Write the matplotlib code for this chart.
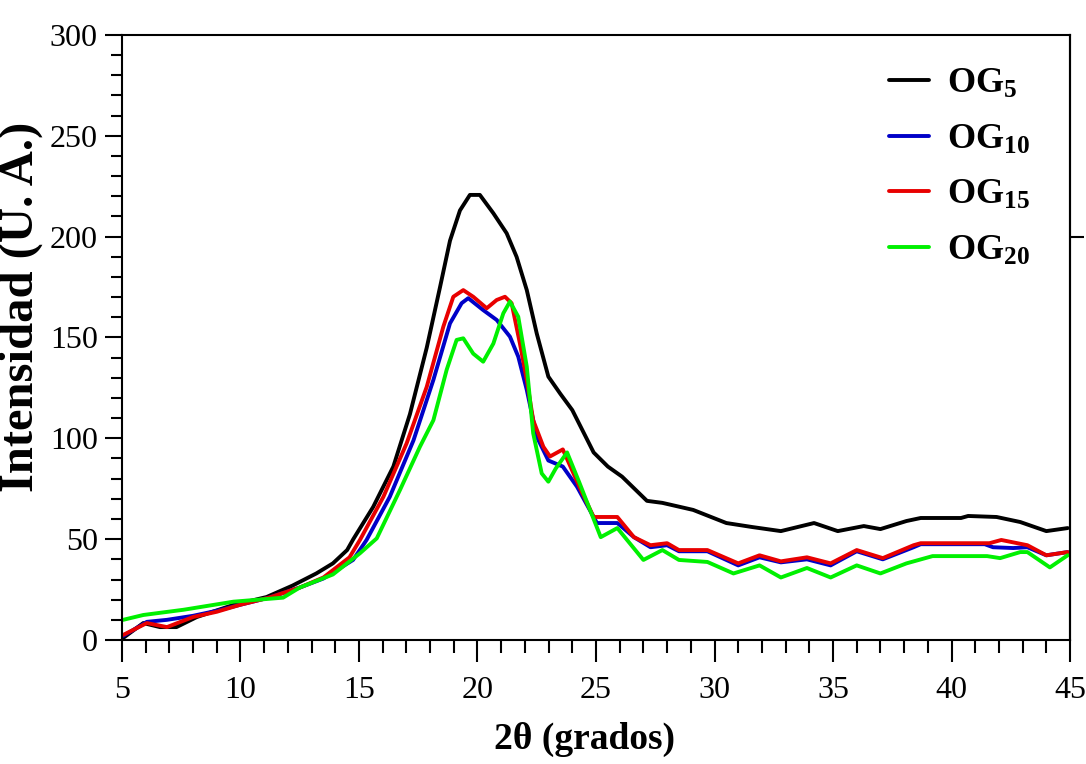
import matplotlib
matplotlib.use("Agg")
import matplotlib.pyplot as plt
from matplotlib.ticker import MultipleLocator

plt.rcParams["font.family"] = ["Liberation Serif", "DejaVu Serif"]
plt.rcParams["mathtext.fontset"] = "custom"
plt.rcParams["mathtext.rm"] = "Liberation Serif"
plt.rcParams["mathtext.bf"] = "Liberation Serif:bold"

# XRD patterns, 2theta (deg) vs intensity (a.u.)
og5_x = [5.05, 5.9, 6.6, 7.3, 8.16, 9.7, 11.1, 12.2, 13.2, 13.9, 14.5, 14.76, 15.6,
         16.45, 17.15, 17.86, 18.42, 18.84, 19.26, 19.68, 20.1, 20.67, 21.23, 21.65,
         22.08, 22.5, 22.99, 23.5, 24.0, 24.9, 25.5, 26.1, 27.15, 27.8, 29.1, 30.5,
         31.6, 32.8, 33.5, 34.2, 35.2, 36.3, 37.0, 38.1, 38.7, 40.4, 40.7, 41.9,
         42.9, 44.0, 44.9]
og5_y = [1, 8.4, 6.4, 6.4, 11.4, 17.4, 21.3, 27, 33, 38, 44.6, 50, 66,
         86, 112, 145, 175, 198, 213, 220.7, 220.7, 211.6, 201.7, 190,
         173.5, 152, 130.6, 122, 114, 93, 86, 81, 69, 68, 64.5, 58,
         56, 54, 56, 58, 54, 56.5, 55, 59, 60.5, 60.5, 61.5, 61,
         58.5, 54, 55.5]

og10_x = [5.05, 6.05, 6.9, 8.0, 9.0, 10.0, 11.2, 12.5, 13.5, 14.75, 15.32, 16.3, 17.3,
          18.14, 18.84, 19.33, 19.61, 20.24, 20.81, 21.37, 21.72, 22.08, 22.5, 22.99,
          23.6, 24.2, 25.04, 25.9, 26.6, 27.3, 28.0, 28.5, 29.7, 31.0, 31.9, 32.8,
          33.9, 34.9, 36.0, 37.1, 38.4, 38.7, 41.4, 41.75, 42.6, 43.2, 44.0, 44.9]
og10_y = [2, 9, 10, 12, 14.5, 17.5, 21, 26, 30.5, 39.7, 49.6, 71, 99,
          129, 157, 167, 169.5, 163.6, 158.7, 150.4, 140.5, 124, 100.8, 89,
          86, 76, 58, 58, 51, 46, 47, 44, 44, 37, 41, 38.5,
          40, 37, 44, 40, 46, 47.5, 47.5, 46, 45.6, 46, 42, 43.6]

og15_x = [5.05, 6.05, 6.9, 8.0, 9.0, 10.0, 11.2, 12.5, 13.5, 14.6, 15.04, 16.03, 17.01,
          17.86, 18.56, 18.98, 19.4, 19.82, 20.39, 20.81, 21.16, 21.44, 21.79, 22.08,
          22.35, 22.78, 23.06, 23.6, 24.3, 24.9, 25.9, 26.6, 27.3, 28.0, 28.5, 29.7,
          31.0, 31.9, 32.8, 33.9, 34.9, 36.0, 37.1, 38.4, 38.7, 41.6, 42.1, 43.2,
          44.0, 44.9]
og15_y = [2.5, 8.4, 6.4, 11.4, 14, 17.5, 21, 26, 31, 41, 49.6, 71, 97.5,
          125.6, 155.4, 170.2, 173.5, 170.2, 164.5, 168.6, 170.2, 167, 147, 129,
          109, 95.8, 91, 94.5, 76, 61, 61, 51, 47, 48, 44.6, 44.6,
          38, 42, 39, 41, 38, 44.6, 40.6, 47, 48, 48, 49.6, 47,
          42, 43.6]

og20_x = [5.05, 5.9, 7.6, 9.7, 11.8, 12.5, 13.9, 15.04, 15.75, 16.73, 17.57, 18.14, 18.7,
          19.12, 19.4, 19.82, 20.24, 20.67, 21.09, 21.37, 21.72, 22.08, 22.35, 22.71,
          22.99, 23.3, 23.78, 24.3, 25.2, 25.9, 27.0, 27.8, 28.5, 29.7, 30.8, 31.9,
          32.8, 33.9, 34.9, 36.0, 37.0, 38.1, 39.2, 41.5, 42.05, 42.9, 43.2, 44.15, 44.9]
og20_y = [10, 12.4, 15, 19, 21, 26, 32.5, 43, 50.4, 74.4, 95.8, 109, 134,
          148.8, 149.6, 142, 138, 147, 162, 167.8, 160.3, 135.5, 102.5, 82.6,
          78.5, 85, 93, 78, 51, 55.5, 39.7, 44.6, 39.7, 38.7, 33, 37,
          31, 35.7, 31, 37, 33, 38, 41.6, 41.6, 40.6, 43.6, 43.6, 36, 42]

labels = [r"$\mathbf{OG_{5}}$", r"$\mathbf{OG_{10}}$", r"$\mathbf{OG_{15}}$", r"$\mathbf{OG_{20}}$"]
colors = ["#000000", "#0000c8", "#e80000", "#00f000"]

fig = plt.figure(figsize=(10.86, 7.64), dpi=100)
ax = fig.add_axes([0.1123, 0.1623, 0.873, 0.7919])

for xs, ys, lab, c in zip([og5_x, og10_x, og15_x, og20_x],
                          [og5_y, og10_y, og15_y, og20_y], labels, colors):
    ax.plot(xs, ys, color=c, lw=2.8, label=lab,
            solid_joinstyle="round", solid_capstyle="round")

ax.set_xlim(5, 45)
ax.set_ylim(0, 300)
ax.xaxis.set_major_locator(MultipleLocator(5))
ax.xaxis.set_minor_locator(MultipleLocator(1))
ax.yaxis.set_major_locator(MultipleLocator(50))
ax.yaxis.set_minor_locator(MultipleLocator(10))

for s in ax.spines.values():
    s.set_linewidth(1.5)
ax.tick_params(axis="x", which="major", direction="out", length=16, width=1.5,
               labelsize=23, pad=10)
ax.tick_params(axis="x", which="minor", direction="out", length=9.5, width=1.5)
ax.tick_params(axis="y", which="major", direction="out", length=12.5, width=1.5,
               labelsize=23, pad=5)
ax.tick_params(axis="y", which="minor", direction="out", length=8, width=1.5)

# single outward tick on the right axis
sec = ax.secondary_yaxis("right")
sec.set_yticks([200])
sec.set_yticklabels([""])
sec.tick_params(length=10, width=1.5)
sec.spines["right"].set_linewidth(1.5)

ax.set_xlabel("2θ (grados)", fontsize=27, fontweight="bold")
ax.xaxis.set_label_coords(0.488, -0.135)
ax.set_ylabel("Intensidad (U. A.)", fontsize=35, fontweight="bold")
ax.yaxis.set_label_coords(-0.083, 0.55)

ax.legend(loc="upper left", bbox_to_anchor=(0.775, 1.0), frameon=False,
          fontsize=26, handlelength=1.1, handletextpad=0.5, labelspacing=0.62)

fig.savefig("out.png", dpi=100)
